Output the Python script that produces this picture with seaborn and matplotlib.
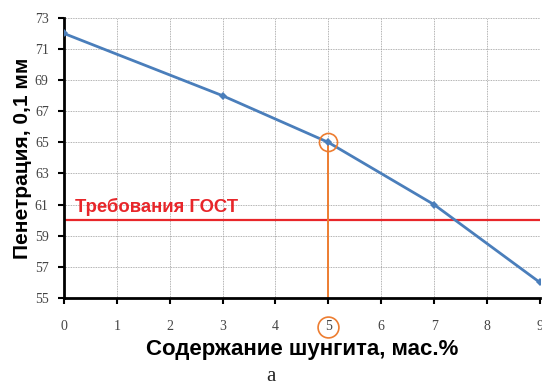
import numpy as np
import pandas as pd
import seaborn as sns
import matplotlib.pyplot as plt

# содержание шунгита, мас.% и пенетрация, 0,1 мм
shungite = [0, 3, 5, 7, 9]
penetration = [72, 68, 65, 61, 56]
gost_limit = 60
chosen = 5

sns.set_theme(style="white")
plt.rcParams["font.family"] = ["Liberation Sans", "DejaVu Sans"]

df = pd.DataFrame({"x": shungite, "y": penetration})

fig = plt.figure(figsize=(5.42, 3.89), dpi=100)
ax = fig.add_axes([0.118, 0.234, 0.878, 0.72])

sns.lineplot(data=df, x="x", y="y", ax=ax, color="#4A7EBB", linewidth=2,
             marker="D", markersize=4.5, markeredgewidth=0, zorder=3)

# требования ГОСТ
ax.axhline(gost_limit, color="#E8262A", linewidth=1.6, zorder=2)
ax.text(0.2, gost_limit + 0.3, "Требования ГОСТ", color="#E8262A",
        fontsize=13.3, fontweight="bold", va="bottom", ha="left")

# выбранная точка
sel_y = penetration[shungite.index(chosen)]
ax.plot([chosen, chosen], [55, sel_y], color="#ED7D31", linewidth=1.4, zorder=2)
ax.plot(chosen, sel_y, marker="o", markersize=13, markerfacecolor="none",
        markeredgecolor="#ED7D31", markeredgewidth=1.2, zorder=4, clip_on=False)

ax.set_xlim(0, 9)
ax.set_ylim(55, 73)
ax.set_xticks(range(0, 10))
ax.set_yticks(range(55, 74, 2))
ax.grid(True, color="#999999", linestyle=(0, (1, 1)), linewidth=0.6)

for s in ["top", "right"]:
    ax.spines[s].set_visible(False)
for s in ["left", "bottom"]:
    ax.spines[s].set_color("black")
    ax.spines[s].set_linewidth(2)

ax.tick_params(axis="both", which="both", direction="out", length=4, width=1.5,
               color="black", labelsize=10, labelcolor="#444444")
ax.tick_params(axis="x", pad=12)
ax.tick_params(axis="y", pad=7)
ax.tick_params(left=True, bottom=True)
for lab in ax.get_xticklabels() + ax.get_yticklabels():
    lab.set_family(["Liberation Serif", "DejaVu Serif"])

# кружок вокруг подписи "5"
ax.plot([chosen], [55 - 1.85], marker="o", markersize=15, markerfacecolor="none",
        markeredgecolor="#ED7D31", markeredgewidth=1.2, clip_on=False)

ax.set_xlabel("Содержание шунгита, мас.%", fontsize=16, fontweight="bold",
              color="black", labelpad=4)
ax.set_ylabel("Пенетрация, 0,1 мм", fontsize=15, fontweight="bold",
              color="black", labelpad=2)

fig.text(0.5, 0.02, "а", fontsize=15, ha="center",
         family=["Liberation Serif", "DejaVu Serif"])

fig.savefig("out.png", dpi=100)
